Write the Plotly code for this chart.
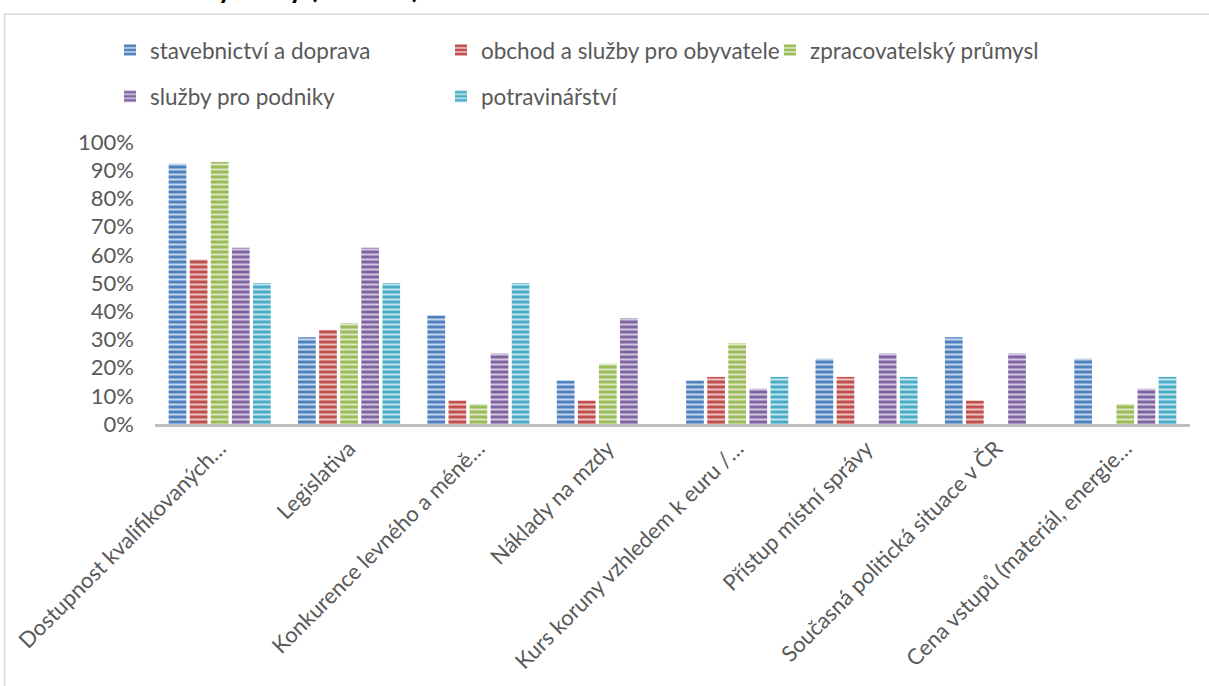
import plotly.graph_objects as go

categories = [
    "Dostupnost kvalifikovaných…",
    "Legislativa",
    "Konkurence levného a méně…",
    "Náklady na mzdy",
    "Kurs koruny vzhledem k euru /…",
    "Přístup místní správy",
    "Současná politická situace v ČR",
    "Cena vstupů (materiál, energie…",
]

series_names = [
    "stavebnictví a doprava",
    "obchod a služby pro obyvatele",
    "zpracovatelský průmysl",
    "služby pro podniky",
    "potravinářství",
]

stavebnictvi = [0.923, 0.308, 0.385, 0.154, 0.154, 0.231, 0.308, 0.231]
obchod = [0.583, 0.333, 0.083, 0.083, 0.167, 0.167, 0.083, 0.0]
zpracovatelsky = [0.929, 0.357, 0.071, 0.214, 0.286, 0.0, 0.0, 0.071]
sluzby_podniky = [0.625, 0.625, 0.25, 0.375, 0.125, 0.25, 0.25, 0.125]
potravinarstvi = [0.5, 0.5, 0.5, 0.0, 0.167, 0.167, 0.0, 0.167]

title_text = "Hlavní bariéry firmy (odvětví)"

values = [stavebnictvi, obchod, zpracovatelsky, sluzby_podniky, potravinarstvi]
main_colors = ["#4F81BD", "#C0504D", "#9BBB59", "#8064A2", "#4BACC6"]
light_colors = ["#C6D6EC", "#EBC4C3", "#DDE8C6", "#D3C8E0", "#C3E4EE"]

FONT = "Lato"
TXT = "#595959"

# plot area: x 155..1190, y 142..428 (pixels)
L, R, T, B = 155, 1190, 142, 428
W, H = R - L, B - T
def px_x(px):
    return (px - L) / W
def px_y(py):
    return (B - py) / H

# one legend per entry, so that each entry sits where it does in the original
legend_slots = [("legend", 110, 49), ("legend2", 441, 49), ("legend3", 770, 49),
                ("legend4", 110, 96), ("legend5", 441, 96)]

fig = go.Figure()
for name, vals, mc, lc, (lg, _, _) in zip(series_names, values, main_colors, light_colors, legend_slots):
    fig.add_trace(go.Bar(
        x=categories, y=vals, name=name, legend=lg, showlegend=True,
        marker=dict(
            color=mc,
            line=dict(width=0),
            pattern=dict(shape="-", bgcolor=mc, fgcolor=lc, size=5, solidity=0.4, fillmode="replace"),
        ),
    ))

legend_layouts = {}
for lg, lx, ly in legend_slots:
    legend_layouts[lg] = dict(
        orientation="h", xanchor="left", yanchor="middle", visible=True,
        xref="paper", yref="paper", x=px_x(lx), y=px_y(ly),
        font=dict(family=FONT, size=22.5, color=TXT), bgcolor="rgba(0,0,0,0)",
    )

fig.update_layout(
    width=1209, height=686,
    margin=dict(l=L, r=1209 - R, t=T, b=686 - B),
    paper_bgcolor="white", plot_bgcolor="white",
    showlegend=True,
    barmode="group", bargap=0.185, bargroupgap=0.16,
    font=dict(family=FONT, color=TXT, size=22),
    xaxis=dict(
        showline=True, linecolor="#BFBFBF", linewidth=3, showgrid=False,
        tickangle=-45, ticks="", tickfont=dict(family=FONT, size=22, color=TXT),
    ),
    yaxis=dict(
        range=[0, 1], dtick=0.1, tickformat=".0%", showgrid=False, showline=False,
        zeroline=False, ticks="", ticklabelstandoff=20,
        tickfont=dict(family=FONT, size=22, color=TXT),
    ),
    **legend_layouts,
)

# outer chart border (extends beyond the visible area to the right and bottom)
fig.add_shape(type="rect", xref="paper", yref="paper",
              x0=px_x(4.5), x1=px_x(1300), y0=px_y(800), y1=px_y(12.5),
              line=dict(color="#D9D9D9", width=1.5), fillcolor="rgba(0,0,0,0)", layer="below")

# title, cut off at the top edge as in the original
fig.add_annotation(
    text="<b>" + title_text + "</b>", xref="paper", yref="paper",
    x=px_x(56), y=px_y(4), xanchor="left", yanchor="bottom", showarrow=False,
    font=dict(family=FONT, size=28, color="#000000"),
)

fig.write_html("out.html")
